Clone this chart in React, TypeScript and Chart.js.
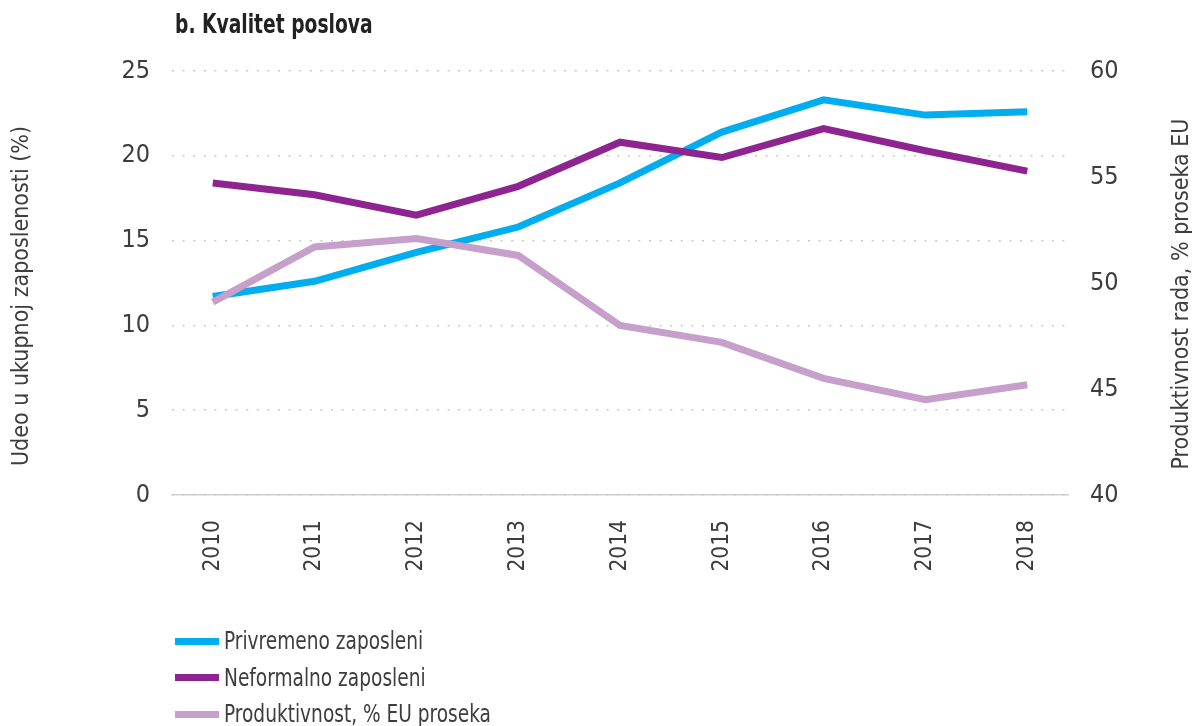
import React, { useEffect, useRef } from "react";
import { Chart, registerables } from "chart.js";

Chart.register(...registerables);

const years = [2010, 2011, 2012, 2013, 2014, 2015, 2016, 2017, 2018];
const privremeno = [11.7, 12.6, 14.3, 15.8, 18.4, 21.4, 23.3, 22.4, 22.6];
const neformalno = [18.4, 17.7, 16.5, 18.2, 20.8, 19.9, 21.6, 20.3, 19.1];
const produktivnost = [49.1, 51.7, 52.1, 51.3, 48.0, 47.2, 45.5, 44.5, 45.2];

const leftTicks = [0, 5, 10, 15, 20, 25];
const rightTicks = [40, 45, 50, 55, 60];

const titleText = "b. Kvalitet poslova";
const leftTitle = "Udeo u ukupnoj zaposlenosti (%)";
const rightTitle = "Produktivnost rada, % proseka EU";
const seriesNames = ["Privremeno zaposleni", "Neformalno zaposleni", "Produktivnost, % EU proseka"];
const colors = ["#00AEEF", "#8E2490", "#C69FCA"];

const FONT = '"DejaVu Sans Condensed", "Liberation Sans Narrow", "Roboto", sans-serif';
const TEXT = "#3d3d3d";

const axisTitlePlugin = {
  id: "axisTitles",
  afterDraw(chart: any) {
    const { ctx, chartArea } = chart;
    const cy = (chartArea.top + chartArea.bottom) / 2 + 13;
    ctx.save();
    ctx.fillStyle = TEXT;
    ctx.font = `23px ${FONT}`;
    ctx.textAlign = "center";
    ctx.textBaseline = "middle";
    ctx.translate(22, cy);
    ctx.rotate(-Math.PI / 2);
    ctx.fillText(leftTitle, 0, 0);
    ctx.restore();
    ctx.save();
    ctx.fillStyle = TEXT;
    ctx.font = `23px ${FONT}`;
    ctx.textAlign = "center";
    ctx.textBaseline = "middle";
    ctx.translate(1182, cy - 2);
    ctx.rotate(-Math.PI / 2);
    ctx.fillText(rightTitle, 0, 0);
    ctx.restore();
  },
};

export default function App() {
  const ref = useRef<HTMLCanvasElement | null>(null);

  useEffect(() => {
    document.body.style.margin = "0";
    const ctx = ref.current!.getContext("2d")!;
    const toPts = (arr: number[]) => years.map((x, i) => ({ x, y: arr[i] }));
    const chart = new Chart(ctx, {
      type: "line",
      data: {
        datasets: [
          { label: seriesNames[0], data: toPts(privremeno), borderColor: colors[0], backgroundColor: colors[0], yAxisID: "y", order: 3 },
          { label: seriesNames[1], data: toPts(neformalno), borderColor: colors[1], backgroundColor: colors[1], yAxisID: "y", order: 2 },
          { label: seriesNames[2], data: toPts(produktivnost), borderColor: colors[2], backgroundColor: colors[2], yAxisID: "y1", order: 1 },
        ],
      },
      plugins: [axisTitlePlugin],
      options: {
        responsive: false,
        animation: false,
        layout: { padding: { top: 71, left: 0, right: 0, bottom: 0 } },
        elements: {
          line: { borderWidth: 7, tension: 0, borderCapStyle: "butt", borderJoinStyle: "miter" },
          point: { radius: 0, hoverRadius: 0 },
        },
        plugins: { legend: { display: false }, title: { display: false }, tooltip: { enabled: false } },
        scales: {
          x: {
            type: "linear",
            min: 2009.6,
            max: 2018.4,
            afterBuildTicks: (axis: any) => {
              axis.ticks = years.map((v) => ({ value: v }));
            },
            afterFit: (axis: any) => {
              axis.height = 231;
            },
            grid: { display: false, drawTicks: false },
            border: { display: true, color: "#cfcfcf", width: 1.5 },
            ticks: {
              autoSkip: false,
              minRotation: 90,
              maxRotation: 90,
              padding: 25,
              color: TEXT,
              font: { family: FONT, size: 22.5 },
              callback: (v: any) => String(v),
            },
          },
          y: {
            position: "left",
            min: 0,
            max: 25,
            afterBuildTicks: (axis: any) => {
              axis.ticks = leftTicks.map((v) => ({ value: v }));
            },
            afterFit: (axis: any) => {
              axis.width = 172;
            },
            grid: { display: true, color: "#c8c8c8", lineWidth: 1.5, drawTicks: false },
            border: { display: false, dash: [2, 8.6] },
            ticks: { padding: 22, color: TEXT, font: { family: FONT, size: 25 } },
          },
          y1: {
            position: "right",
            min: 40,
            max: 60,
            afterBuildTicks: (axis: any) => {
              axis.ticks = rightTicks.map((v) => ({ value: v }));
            },
            afterFit: (axis: any) => {
              axis.width = 124;
            },
            grid: { display: false, drawTicks: false },
            border: { display: false },
            ticks: { padding: 22, color: TEXT, font: { family: FONT, size: 25 } },
          },
        },
      },
    } as any);
    return () => chart.destroy();
  }, []);

  return (
    <div style={{ position: "fixed", left: 0, top: 0, width: 1192, height: 726, background: "#fff", overflow: "hidden" }}>
      <canvas ref={ref} width={1192} height={726} style={{ position: "absolute", left: 0, top: 0, width: 1192, height: 726 }} />
      <div
        style={{
          position: "absolute",
          left: 175,
          top: 7,
          fontFamily: FONT,
          fontWeight: "bold",
          fontSize: 27,
          color: "#222",
          lineHeight: "34px",
          whiteSpace: "nowrap",
          transform: "scaleX(0.77)",
          transformOrigin: "left center",
        }}
      >
        {titleText}
      </div>
      {seriesNames.map((name, i) => (
        <div
          key={name}
          style={{
            position: "absolute",
            left: 175,
            top: 641 + i * 36.5 - 16,
            height: 32,
            display: "flex",
            alignItems: "center",
            fontFamily: FONT,
            fontSize: 24,
            color: TEXT,
            whiteSpace: "nowrap",
          }}
        >
          <span style={{ display: "inline-block", width: 44, height: 7, background: colors[i], marginRight: 5 }} />
          <span style={{ display: "inline-block", transform: "scaleX(0.86)", transformOrigin: "left center" }}>{name}</span>
        </div>
      ))}
    </div>
  );
}
